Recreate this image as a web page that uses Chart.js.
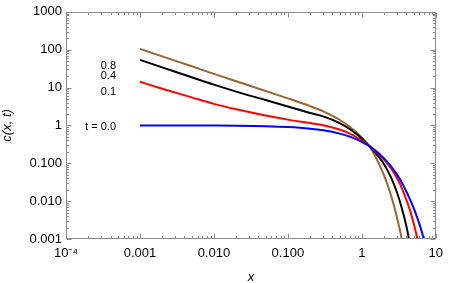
<!DOCTYPE html>
<html><head><meta charset="utf-8">
<script src="https://cdn.jsdelivr.net/npm/chart.js@4/dist/chart.umd.min.js"></script>
<style>html,body{margin:0;padding:0;background:#fff}#wrap{width:450px;height:283px;position:relative}</style>
</head><body><div id="wrap"><canvas id="c"></canvas></div>
<script>
// ---- data ----
const xValues = [0.001, 0.002, 0.005, 0.01, 0.02, 0.05, 0.1, 0.2, 0.3, 0.5, 0.7, 1, 1.25, 1.5, 2, 2.5, 3, 3.5, 4, 4.5, 5, 5.5, 6, 6.5, 7];
const cT00 = [1.0, 0.998, 0.995, 0.99, 0.98, 0.951, 0.905, 0.819, 0.741, 0.607, 0.497, 0.368, 0.287, 0.223, 0.135, 0.082, 0.050, 0.030, 0.018, 0.011, 0.0067, 0.0041, 0.0025, 0.0015, 0.0009];
const cT01 = [14.2, 9.3, 5.5, 3.7, 2.66, 1.83, 1.42, 1.15, 1.01, 0.78, 0.60, 0.40, 0.29, 0.215, 0.125, 0.072, 0.040, 0.0215, 0.011, 0.0056, 0.0027, 0.00125, 0.00055, null, null];
const cT04 = [53.6, 34.1, 18.7, 11.9, 7.8, 4.67, 3.15, 2.12, 1.73, 1.15, 0.78, 0.449, 0.29, 0.198, 0.0946, 0.041, 0.0166, 0.0062, 0.0022, 0.0007, null, null, null, null, null];
const cT08 = [105, 66.5, 36.4, 23.0, 14.6, 8.1, 5.16, 3.22, 2.35, 1.41, 0.895, 0.48, 0.29, 0.161, 0.048, 0.0136, 0.0036, 0.00092, 0.0002, null, null, null, null, null, null];
const seriesNames = ['t = 0.0', '0.1', '0.4', '0.8'];
const seriesColors = ['#0000ff', '#ff0000', '#000000', '#996633'];
const labelX = 0.000475;
const labelY = [0.91, 7.7, 20, 38];
const xTickValues = [1e-4, 1e-3, 1e-2, 1e-1, 1, 10];
const xTickLabels = ['10\u207B\u2074', '0.001', '0.010', '0.100', '1', '10'];
const yTickValues = [1e-3, 1e-2, 1e-1, 1, 10, 100, 1000];
const yTickLabels = ['0.001', '0.010', '0.100', '1', '10', '100', '1000'];

const allSeries = [cT00, cT01, cT04, cT08];
const datasets = allSeries.map((s, i) => ({
  label: seriesNames[i],
  data: xValues.map((x, j) => ({x: x, y: s[j]})).filter(p => p.y !== null),
  borderColor: seriesColors[i],
  borderWidth: 2,
  pointRadius: 0,
  showLine: true,
  fill: false,
  cubicInterpolationMode: 'monotone'
}));

const FONT = 'Liberation Sans, Arial, sans-serif';

const framePlugin = {
  id: 'frameTicks',
  afterDatasetsDraw(chart) {
    const {ctx, chartArea: a, scales} = chart;
    const xs = scales.x, ys = scales.y;
    ctx.save();
    ctx.strokeStyle = '#8c8c8c';
    ctx.lineWidth = 1;
    const L = Math.round(a.left) + 0.5, R = Math.round(a.right) - 0.5;
    const T = Math.round(a.top) + 0.5, B = Math.round(a.bottom) - 0.5;
    ctx.beginPath();
    ctx.rect(L, T, R - L, B - T);
    ctx.stroke();
    ctx.beginPath();
    for (let e = -4; e <= 1; e++) {
      for (let k = 1; k <= 9; k++) {
        const v = k * Math.pow(10, e);
        if (v < 1e-4 * 0.999 || v > 10 * 1.001) continue;
        const px = Math.round(xs.getPixelForValue(v)) + 0.5;
        const len = k === 1 ? 5 : 2.5;
        ctx.moveTo(px, B); ctx.lineTo(px, B - len);
        ctx.moveTo(px, T); ctx.lineTo(px, T + len);
      }
    }
    for (let e = -3; e <= 3; e++) {
      for (let k = 1; k <= 9; k++) {
        const v = k * Math.pow(10, e);
        if (v < 1e-3 * 0.999 || v > 1000 * 1.001) continue;
        const py = Math.round(ys.getPixelForValue(v)) + 0.5;
        const len = k === 1 ? 5 : 2.5;
        ctx.moveTo(L, py); ctx.lineTo(L + len, py);
        ctx.moveTo(R, py); ctx.lineTo(R - len, py);
      }
    }
    ctx.stroke();
    ctx.fillStyle = '#000';
    ctx.font = '11px ' + FONT;
    ctx.textAlign = 'right';
    ctx.textBaseline = 'middle';
    seriesNames.forEach((n, i) => {
      ctx.fillText(n, xs.getPixelForValue(labelX), ys.getPixelForValue(labelY[i]));
    });
    ctx.restore();
  }
};

new Chart(document.getElementById('c'), {
  type: 'scatter',
  data: {datasets},
  options: {
    responsive: true,
    maintainAspectRatio: false,
    animation: false,
    layout: {padding: {top: 6, right: 7, left: 0, bottom: 0}},
    plugins: {legend: {display: false}, tooltip: {enabled: false}},
    scales: {
      x: {
        type: 'logarithmic', min: 1e-4, max: 10,
        afterBuildTicks: s => { s.ticks = xTickValues.map(v => ({value: v})); },
        afterFit: s => { s.height = 44; },
        grid: {display: false, drawTicks: false},
        border: {display: false},
        ticks: {autoSkip: false, maxRotation: 0, padding: 7, color: '#000',
                font: {family: FONT, size: 13},
                callback: (v, i) => xTickLabels[i]},
        title: {display: true, text: 'x', color: '#000', padding: {top: 0, bottom: -2},
                font: {family: FONT, size: 13, style: 'italic'}}
      },
      y: {
        type: 'logarithmic', min: 1e-3, max: 1000,
        afterBuildTicks: s => { s.ticks = yTickValues.map(v => ({value: v})); },
        afterFit: s => { s.width = 66; },
        grid: {display: false, drawTicks: false},
        border: {display: false},
        ticks: {autoSkip: false, padding: 4, color: '#000',
                font: {family: FONT, size: 13},
                callback: (v, i) => yTickLabels[i]},
        title: {display: true, text: 'c(x, t)', color: '#000', padding: {top: 0, bottom: 0},
                font: {family: FONT, size: 13, style: 'italic'}}
      }
    }
  },
  plugins: [framePlugin]
});
</script>
</body></html>
